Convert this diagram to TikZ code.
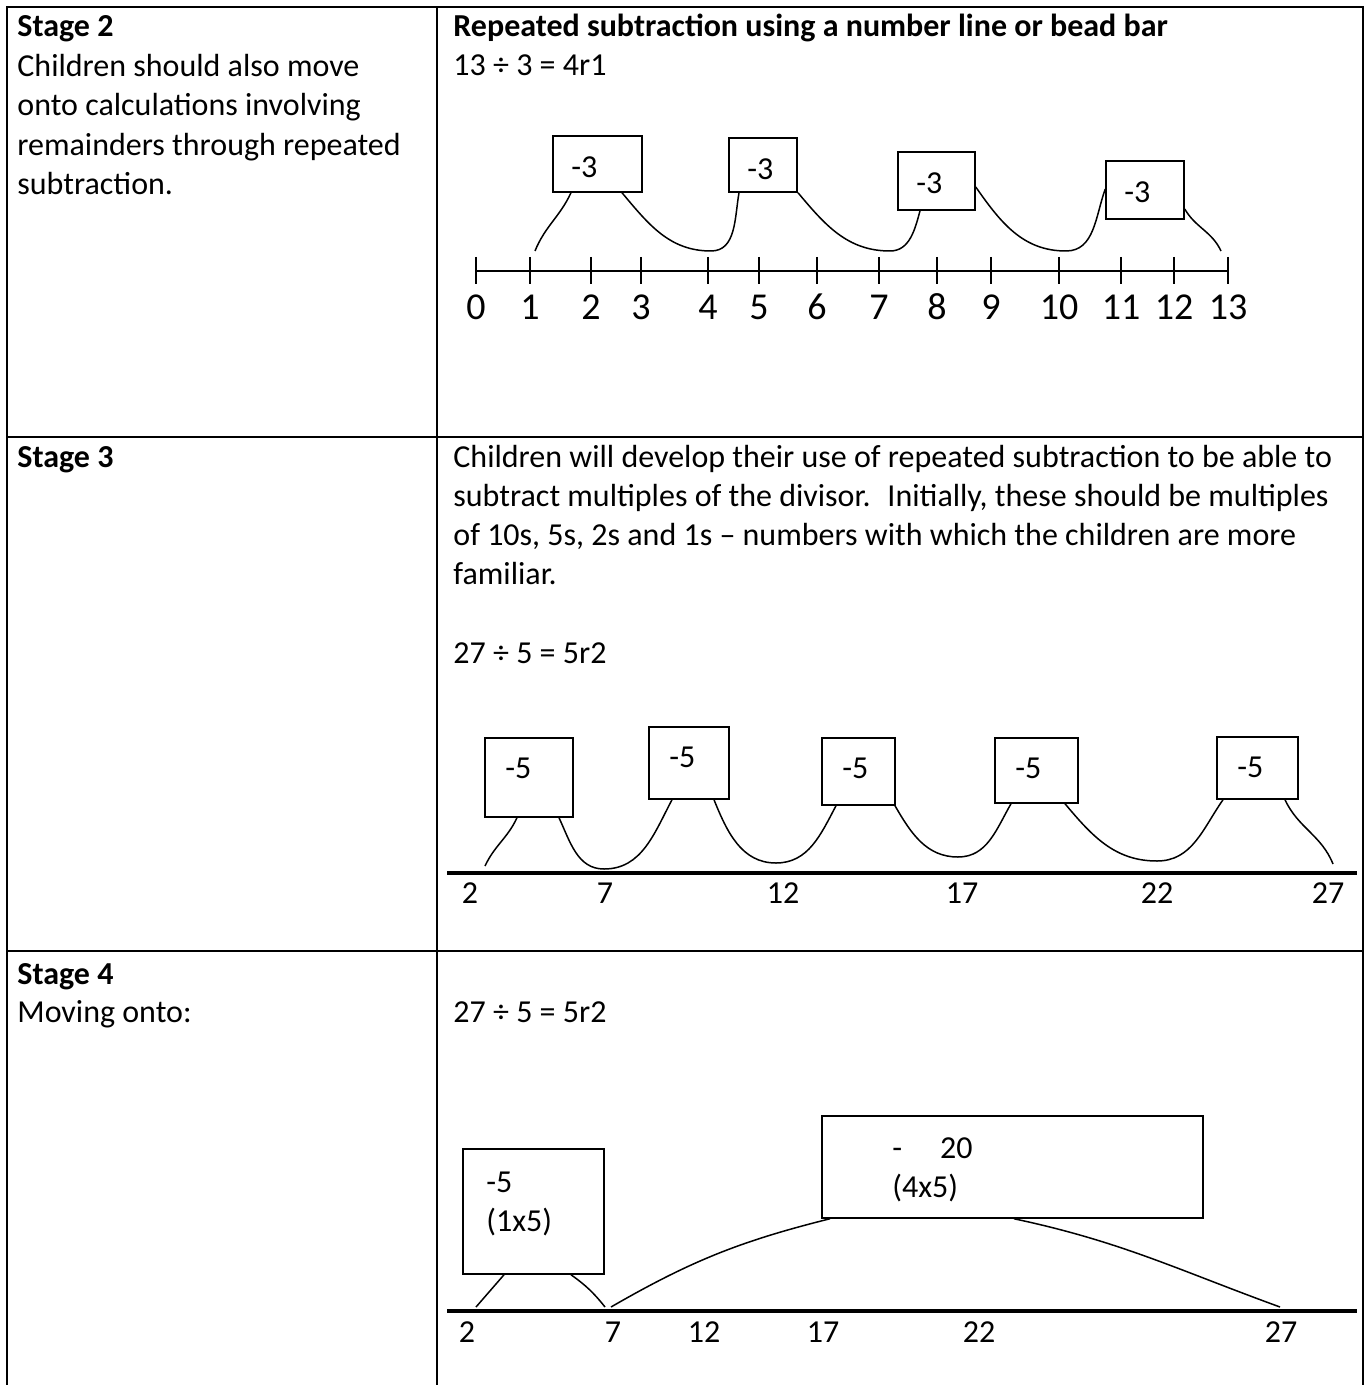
\documentclass[tikz,border=0pt]{standalone}
\usepackage{fontspec}
\setmainfont{Carlito}
\usetikzlibrary{calc}

\begin{document}
\begin{tikzpicture}[x=0.5pt, y=-0.5pt,
rule/.style={line width=1pt},
body/.style={anchor=base west, inner sep=0pt, align=left, font=\fontsize{16}{19.5}\selectfont},
head/.style={body, font=\bfseries\fontsize{16}{19.5}\selectfont},
jumpbox/.style 2 args={draw, line width=0.75pt, inner sep=0pt, minimum width=#1*0.5pt, minimum height=#2*0.5pt},
boxlbl/.style={inner sep=0pt, font=\fontsize{16}{19.5}\selectfont},
hop/.style={line width=0.75pt},
notch/.style={line width=0.75pt},
numline/.style={line width=1.8pt},
bignum/.style={inner sep=0pt, font=\fontsize{19}{23}\selectfont},
num/.style={anchor=base, inner sep=0pt, font=\fontsize{16}{19.5}\selectfont},
]
\useasboundingbox (0,0) rectangle (1369,1385);

% table
\draw[rule] (7,1385) -- (7,7) -- (1363,7) -- (1363,1385);
\draw[rule] (437,7) -- (437,1385);
\draw[rule] (7,437) -- (1363,437);
\draw[rule] (7,951) -- (1363,951);

% stage 2
\node[head] (st2) at (17,37) {Stage 2};
\node[body, font=\fontsize{16}{19.75}\selectfont] (st2txt) at (17,195) {Children should also move\\onto calculations involving\\remainders through repeated\\subtraction.};
\node[head] (title2) at (453,37) {Repeated subtraction using a number line or bead bar};
\node[body] (sum2) at (453,76) {13 ÷ 3 = 4r1};

\draw[hop] (476,271) -- (1228,271);
\foreach \x [count=\n from 0] in {476,530,591,641,708,759,817,879,937,991,1059,1121,1174,1228}{
  \draw[notch] (\x,257) -- (\x,284);
  \node[bignum] (t\n) at (\x,307) {\n};
}

\node[jumpbox={89}{56}] (b1) at (597.5,164) {};
\node[jumpbox={68}{54}] (b2) at (763,165) {};
\node[jumpbox={77}{58}] (b3) at (936.5,181) {};
\node[jumpbox={78}{58}] (b4) at (1145,190) {};
\foreach \b in {b1,b2,b3,b4}
  \node[boxlbl] (\b-lbl) at ([shift={(32,32)}]\b.north west) {-3};

\coordinate (dip1) at (711,251);
\coordinate (dip2) at (890,251);
\coordinate (dip3) at (1066,251);
\draw[hop] (535,251) to[out=68,in=-115] (571,0 |- b1.south);
\draw[hop] (622,0 |- b1.south) to[out=-50,in=180] (dip1) to[out=0,in=-100] (739,0 |- b2.south);
\draw[hop] (798,0 |- b2.south) to[out=-50,in=180] (dip2) to[out=0,in=-105] (920,0 |- b3.south);
\draw[hop] (b3.east |- 0,187) to[out=-55,in=180] (dip3) to[out=0,in=-110] (b4.west |- 0,189);
\draw[hop] (b4.east |- 0,209) to[out=-60,in=115] (1221,251);

% stage 3
\node[head] (st3) at (17,467) {Stage 3};
\node[body] (st3txt) at (453,584) {Children will develop their use of repeated subtraction to be able to\\subtract multiples of the divisor.~ Initially, these should be multiples\\of 10s, 5s, 2s and 1s -- numbers with which the children are more\\familiar.};
\node[body] (sum3) at (453,663) {27 ÷ 5 = 5r2};

\node[jumpbox={88}{79}] (c1) at (529,777.5) {};
\node[jumpbox={80}{72}] (c2) at (689,763) {};
\node[jumpbox={73}{67}] (c3) at (858.5,771.5) {};
\node[jumpbox={83}{65}] (c4) at (1036.5,770.5) {};
\node[jumpbox={81}{62}] (c5) at (1257.5,768) {};
\foreach \c in {c1,c2,c3,c4,c5}
  \node[boxlbl] (\c-lbl) at ([shift={(34,31)}]\c.north west) {-5};

\draw[numline] (447,873) -- (1357,873);
\foreach \x/\v in {470/2,605/7,783/12,962/17,1157/22,1328/27}
  \node[num] (m\v) at (\x,903) {\v};

\coordinate (low1) at (604,869);
\coordinate (low2) at (776,863);
\coordinate (low3) at (958,857);
\coordinate (low4) at (1157,861);
\draw[hop] (485,866) to[out=65,in=-115] (517,0 |- c1.south);
\draw[hop] (559,0 |- c1.south) to[out=-65,in=180] (low1) to[out=0,in=-118] (672,0 |- c2.south);
\draw[hop] (714,0 |- c2.south) to[out=-68,in=180] (low2) to[out=0,in=-118] (836,0 |- c3.south);
\draw[hop] (895,0 |- c3.south) to[out=-60,in=180] (low3) to[out=0,in=-120] (1011,0 |- c4.south);
\draw[hop] (1065,0 |- c4.south) to[out=-50,in=180] (low4) to[out=0,in=-125] (1223,0 |- c5.south);
\draw[hop] (1285,0 |- c5.south) to[out=-65,in=112] (1333,864);

% stage 4
\node[head] (st4) at (17,984) {Stage 4};
\node[body] (st4txt) at (17,1022) {Moving onto:};
\node[body] (sum4) at (453,1022) {27 ÷ 5 = 5r2};

\node[jumpbox={141}{125}] (d1) at (533.5,1211.5) {};
\node[body] (d1-lbl) at (486,1231) {-5\\(1x5)};
\node[jumpbox={381}{102}] (d2) at (1012.5,1167) {};
\node[body] (d2-lbl) at (892,1197) {-\hspace{19pt}20\\(4x5)};

\draw[numline] (447,1311) -- (1357,1311);
\foreach \x/\v in {467/2,613/7,704/12,823/17,979/22,1281/27}
  \node[num] (k\v) at (\x,1342) {\v};

\draw[hop] (476,1307) -- (504,0 |- d1.south);
\draw[hop] (571,0 |- d1.south) to[bend left=8] (605,1307);
\draw[hop] (611,1307) to[out=30,in=-166] (830,0 |- d2.south);
\draw[hop] (1014,0 |- d2.south) to[out=-12,in=160] (1280,1307);
\end{tikzpicture}
\end{document}
